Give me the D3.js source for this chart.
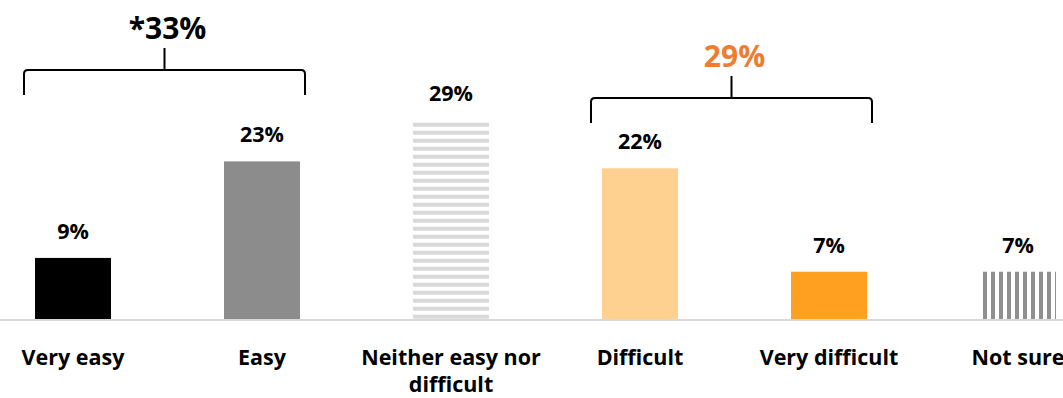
<!DOCTYPE html>
<html>
<head>
<meta charset="utf-8">
<script src="https://cdn.jsdelivr.net/npm/d3@7"></script>
<style>
  html, body { margin: 0; padding: 0; background: #fff; }
  svg { display: block; }
  text { font-family: "Open Sans", "Noto Sans", sans-serif; font-weight: bold; }
</style>
</head>
<body>
<svg id="chart" width="1063" height="398"></svg>
<script>
// ---- data ----
const categories = ["Very easy", "Easy", "Neither easy nor difficult", "Difficult", "Very difficult", "Not sure"];
const values = [9, 23, 29, 22, 7, 7];
const valueLabels = ["9%", "23%", "29%", "22%", "7%", "7%"];
const groupLabels = ["*33%", "29%"];
const groupStart = ["Very easy", "Difficult"];
const groupEnd = ["Easy", "Very difficult"];

// ---- styles ----
const barFills = ["#000000", "#8c8c8c", "url(#hstripe)", "#ffd191", "#ffa020", "url(#vstripe)"];
const groupColors = ["#000000", "#ed7d31"];
const groupLineY = [70, 98];
const labelSize = 21.5;
const groupSize = 30;

const W = 1063, H = 398;
const baseY = 320;
const svg = d3.select("#chart");

const defs = svg.append("defs");
const hp = defs.append("pattern").attr("id", "hstripe").attr("patternUnits", "userSpaceOnUse")
  .attr("width", 8).attr("height", 8).attr("y", 2.7);
hp.append("rect").attr("x", 0).attr("y", 0).attr("width", 8).attr("height", 4).attr("fill", "#d9d9d9");
const vp = defs.append("pattern").attr("id", "vstripe").attr("patternUnits", "userSpaceOnUse")
  .attr("width", 8).attr("height", 8).attr("x", 983);
vp.append("rect").attr("x", 0).attr("y", 0).attr("width", 4).attr("height", 8).attr("fill", "#8f8f8f");

const step = 189;
const x0 = -21.5;
const x = d3.scaleBand().domain(categories)
  .range([x0, x0 + step * categories.length])
  .paddingInner(0.598).paddingOuter(0.299);
const y = d3.scaleLinear().domain([0, 46.4]).range([baseY, 0]);

// bars
svg.append("g").selectAll("rect").data(categories).join("rect")
  .attr("x", d => x(d))
  .attr("y", (d, i) => y(values[i]))
  .attr("width", x.bandwidth())
  .attr("height", (d, i) => baseY - y(values[i]))
  .attr("fill", (d, i) => barFills[i]);

// value labels
svg.append("g").selectAll("text").data(categories).join("text")
  .attr("x", d => x(d) + x.bandwidth() / 2)
  .attr("y", (d, i) => y(values[i]) - 19)
  .attr("text-anchor", "middle")
  .attr("font-size", labelSize)
  .attr("fill", "#000")
  .text((d, i) => valueLabels[i]);

// baseline axis
const xAxis = d3.axisBottom(x).tickSize(0).tickPadding(0);
const ax = svg.append("g").attr("transform", `translate(0,${baseY})`).call(xAxis);
ax.select(".domain").remove();
svg.append("line").attr("x1", 0).attr("x2", W).attr("y1", baseY).attr("y2", baseY)
  .attr("stroke", "#d9d9d9").attr("stroke-width", 2);

ax.selectAll(".tick text").remove();
ax.selectAll(".tick").each(function(d) {
  const g = d3.select(this);
  const t = g.append("text").attr("text-anchor", "middle").attr("font-size", labelSize)
    .attr("fill", "#000").attr("y", 45);
  const words = d.split(" ");
  let lines = [], cur = [];
  const probe = svg.append("text").attr("font-size", labelSize).style("font-weight", "bold");
  words.forEach(w => {
    const test = cur.concat([w]).join(" ");
    probe.text(test);
    if (probe.node().getComputedTextLength() > 200 && cur.length) {
      lines.push(cur.join(" ")); cur = [w];
    } else cur.push(w);
  });
  lines.push(cur.join(" "));
  probe.remove();
  lines.forEach((l, i) => t.append("tspan").attr("x", 0).attr("dy", i === 0 ? 0 : 27).text(l));
});

// group brackets
groupLabels.forEach((lab, i) => {
  const x1 = x(groupStart[i]) + x.bandwidth() / 2 - 49;
  const x2 = x(groupEnd[i]) + x.bandwidth() / 2 + 43;
  const hy = groupLineY[i];
  const mid = (x1 + x2) / 2;
  const r = 4;
  svg.append("path")
    .attr("d", `M${x1},${hy + 25} L${x1},${hy + r} Q${x1},${hy} ${x1 + r},${hy} L${x2 - r},${hy} Q${x2},${hy} ${x2},${hy + r} L${x2},${hy + 25}`)
    .attr("fill", "none").attr("stroke", "#000").attr("stroke-width", 2);
  svg.append("line").attr("x1", mid).attr("x2", mid).attr("y1", hy).attr("y2", hy - 22)
    .attr("stroke", "#000").attr("stroke-width", 2);
  svg.append("text").attr("x", mid + 3).attr("y", hy - 31)
    .attr("text-anchor", "middle").attr("font-size", groupSize)
    .attr("fill", groupColors[i]).text(lab);
});
</script>
</body>
</html>
